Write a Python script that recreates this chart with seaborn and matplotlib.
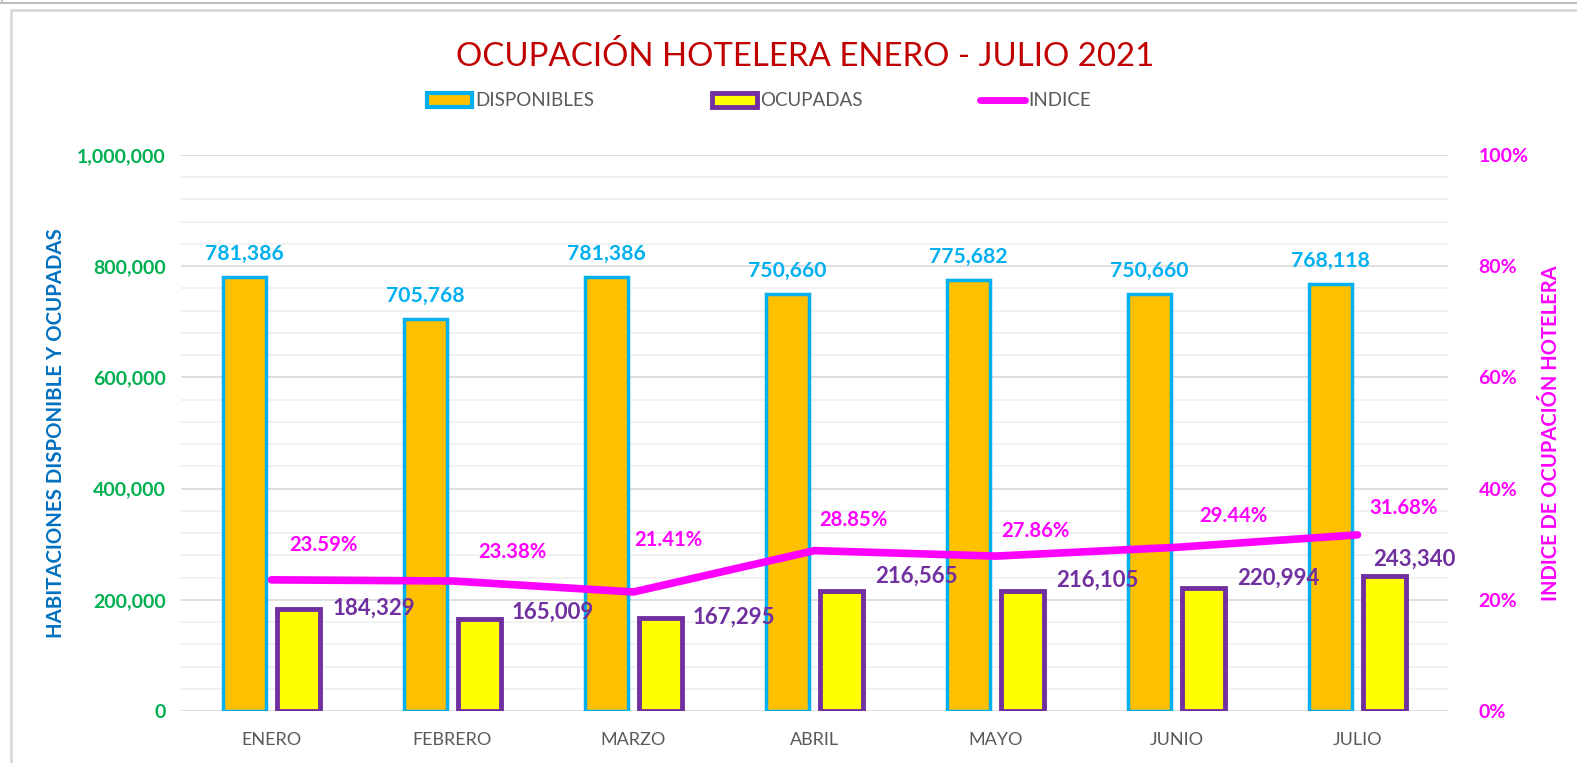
import numpy as np
import pandas as pd
import matplotlib
matplotlib.use("Agg")
import matplotlib.pyplot as plt
import seaborn as sns
from matplotlib.patches import Patch, Rectangle
from matplotlib.lines import Line2D
from matplotlib.ticker import FuncFormatter, MultipleLocator

# ---- data ----
meses = ["ENERO", "FEBRERO", "MARZO", "ABRIL", "MAYO", "JUNIO", "JULIO"]
disponibles = [781386, 705768, 781386, 750660, 775682, 750660, 768118]
ocupadas = [184329, 165009, 167295, 216565, 216105, 220994, 243340]
indice = [23.59, 23.38, 21.41, 28.85, 27.86, 29.44, 31.68]  # percent

title = "OCUPACIÓN HOTELERA ENERO - JULIO 2021"
series_names = ["DISPONIBLES", "OCUPADAS", "INDICE"]

# ---- style ----
sns.set_style("white")
plt.rcParams["font.family"] = ["Lato", "DejaVu Sans"]

C_DISP, C_DISP_EDGE = "#FFC000", "#00B0F0"
C_OCUP, C_OCUP_EDGE = "#FFFF00", "#7030A0"
C_IND = "#FF00FF"
C_GRAY = "#595959"

W, H = 1577, 763
fig = plt.figure(figsize=(W / 100, H / 100), dpi=100)
ax = fig.add_axes([181 / W, 1 - 711 / H, (1448 - 181) / W, (711 - 155) / H])

df = pd.DataFrame({
    "mes": meses * 2,
    "valor": disponibles + ocupadas,
    "serie": [series_names[0]] * len(meses) + [series_names[1]] * len(meses),
})

sns.barplot(data=df, x="mes", y="valor", hue="serie",
            palette=[C_DISP, C_OCUP], saturation=1, width=0.6, gap=0.2,
            ax=ax, legend=False, zorder=3)

for bar in ax.containers[0]:
    bar.set_edgecolor(C_DISP_EDGE)
    bar.set_linewidth(2.5)
for bar in ax.containers[1]:
    bar.set_edgecolor(C_OCUP_EDGE)
    bar.set_linewidth(3.5)

ax.set_ylim(0, 1_000_000)
ax.set_xlim(-0.5, len(meses) - 0.5)
ax.yaxis.set_major_locator(MultipleLocator(200_000))
ax.yaxis.set_minor_locator(MultipleLocator(40_000))
ax.yaxis.set_major_formatter(FuncFormatter(lambda v, p: f"{int(v):,}"))
ax.grid(which="major", axis="y", color="#D9D9D9", lw=1.2)
ax.grid(which="minor", axis="y", color="#EFEFEF", lw=1.2)
ax.grid(which="both", axis="x", visible=False)
ax.set_axisbelow(True)
for s in ax.spines.values():
    s.set_visible(False)
ax.tick_params(axis="y", which="both", length=0, pad=11,
               labelcolor="#00B050", labelsize=14)
ax.tick_params(axis="x", length=0, pad=15, labelcolor=C_GRAY, labelsize=13)
for t in ax.get_yticklabels():
    t.set_fontweight("bold")
ax.set_xlabel("")
ax.set_ylabel("HABITACIONES DISPONIBLE Y OCUPADAS", color="#0070C0",
              fontsize=14.7, fontweight="bold")
ax.yaxis.set_label_coords((66 - 181) / 1267, 0.5)

# labels on bars
for bar, v in zip(ax.containers[0], disponibles):
    ax.annotate(f"{v:,}", (bar.get_x() + bar.get_width() / 2, bar.get_height()),
                xytext=(0, 23), textcoords="offset pixels", ha="center", va="center",
                color=C_DISP_EDGE, fontsize=15.2, fontweight="bold", zorder=5)
ocup_offsets = [(12, 0), (10, 7), (10, 1), (12, 14), (12, 11), (12, 10), (-33, 16)]
for bar, v, (dx, dy) in zip(ax.containers[1], ocupadas, ocup_offsets):
    ax.annotate(f"{v:,}", (bar.get_x() + bar.get_width(), bar.get_height()),
                xytext=(dx, dy), textcoords="offset pixels", ha="left", va="center",
                color=C_OCUP_EDGE, fontsize=16, fontweight="bold", zorder=5)

# ---- secondary axis ----
ax2 = ax.twinx()
ind_frac = [v / 100 for v in indice]
sns.pointplot(x=meses, y=ind_frac, ax=ax2, color=C_IND, markers="",
              errorbar=None, linewidth=5.5, solid_capstyle="round")
ax2.set_ylim(0, 1)
ax2.set_xlim(-0.5, len(meses) - 0.5)
ax2.yaxis.set_major_locator(MultipleLocator(0.2))
ax2.yaxis.set_major_formatter(FuncFormatter(lambda v, p: f"{v * 100:.0f}%"))
for s in ax2.spines.values():
    s.set_visible(False)
ax2.grid(False)
ax2.tick_params(axis="y", length=0, pad=22, labelcolor=C_IND, labelsize=14)
for t in ax2.get_yticklabels():
    t.set_fontweight("bold")
ax2.set_ylabel("INDICE DE OCUPACIÓN HOTELERA", color=C_IND,
               fontsize=14.5, fontweight="bold")
ax2.yaxis.set_label_coords((1541 - 181) / 1267, 0.5)

ind_offsets = [(52, 35), (60, 29), (35, 52), (39, 31), (40, 25), (57, 31), (46, 27)]
for i, (v, (dx, dy)) in enumerate(zip(ind_frac, ind_offsets)):
    ax2.annotate(f"{v * 100:.2f}%", (i, v), xytext=(dx, dy),
                 textcoords="offset pixels", ha="center", va="center",
                 color=C_IND, fontsize=14.6, fontweight="bold")

# ---- title & legend ----
fig.text(805 / W, 1 - 56 / H, title, ha="center", va="center",
         color="#C00000", fontsize=23.8)

handles = [
    Patch(facecolor=C_DISP, edgecolor=C_DISP_EDGE, lw=3),
    Patch(facecolor=C_OCUP, edgecolor=C_OCUP_EDGE, lw=3.5),
    Line2D([], [], color=C_IND, lw=5),
]
fig.legend(handles, series_names, loc="center", bbox_to_anchor=(759 / W, 1 - 101 / H),
           ncol=3, frameon=False, fontsize=13.5, labelcolor=C_GRAY,
           handlelength=2.4, handleheight=0.8, handletextpad=0.15,
           columnspacing=6.3)

# ---- outer frames ----
fig.add_artist(Rectangle((11 / W, -0.05), 2, 1 - 10 / H + 0.05,
                         transform=fig.transFigure, fill=False,
                         edgecolor="#D9D9D9", lw=2))
fig.add_artist(Line2D([0, 1], [1 - 3 / H] * 2, transform=fig.transFigure,
                      color="#BFBFBF", lw=1.5))
fig.add_artist(Line2D([2 / W] * 2, [1, 1 - 3 / H], transform=fig.transFigure,
                      color="#BFBFBF", lw=1.5))

fig.savefig("out.png", dpi=100)
